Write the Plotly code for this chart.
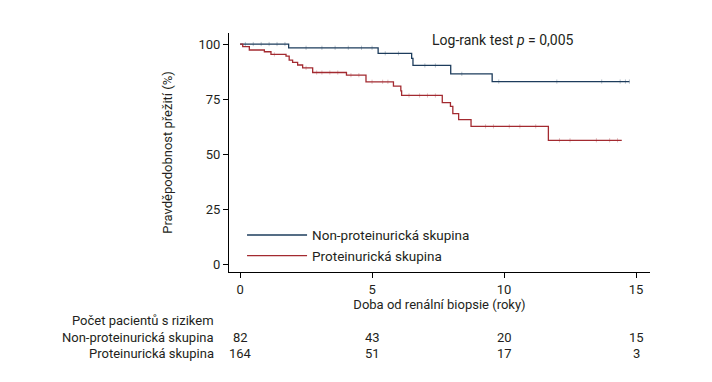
import numpy as np
import plotly.graph_objects as go

# ---- data ----
group_names = ["Non-proteinurická skupina", "Proteinurická skupina"]
non_t = [0, 1.84, 5.23, 6.50, 6.55, 7.98, 9.55, 14.75]
non_s = [100, 98.3, 95.8, 93.5, 90.3, 86.5, 83.0, 83.0]
pro_t = [0, 0.10, 0.35, 0.92, 1.17, 1.74, 1.86, 1.99, 2.18, 2.37, 2.75, 4.03, 4.77,
         5.81, 6.09, 6.12, 7.66, 7.97, 8.06, 8.28, 8.75, 11.68, 14.46]
pro_s = [100, 98.8, 97.3, 96.5, 95.3, 94.5, 92.7, 91.7, 90.5, 89.2, 87.1, 85.9, 82.9,
         80.9, 78.8, 76.7, 73.5, 71.8, 68.5, 65.8, 62.7, 56.4, 56.4]
non_cens = [0.2, 0.5, 0.8, 1.1, 1.4, 1.7, 2.5, 3.1, 3.6, 4.1, 4.6, 5.0, 5.5, 6.0,
            7.0, 7.4, 8.4, 9.8, 12.0, 13.7, 14.4, 14.6, 14.75]
pro_cens = [1.3, 2.5, 2.9, 3.1, 3.4, 3.7, 4.2, 4.5, 5.0, 5.4, 5.6, 6.4, 6.8, 7.1,
            7.4, 9.3, 9.6, 10.2, 10.6, 11.2, 12.1, 12.5, 13.5, 14.0, 14.3]
risk_times = [0, 5, 10, 15]
risk_non = [82, 43, 20, 15]
risk_pro = [164, 51, 17, 3]
x_ticks = [0, 5, 10, 15]
y_ticks = [0, 25, 50, 75, 100]

BLUE = "#1d3c5c"
RED = "#a32a30"
TXT = "#231f20"
FONT = "Roboto"


def step_at(ts, ss, x):
    i = np.searchsorted(np.array(ts), x, side="right") - 1
    return ss[max(i, 0)]


fig = go.Figure()
for name, t, s, c, col in [(group_names[0], non_t, non_s, non_cens, BLUE),
                           (group_names[1], pro_t, pro_s, pro_cens, RED)]:
    fig.add_trace(go.Scatter(x=t, y=s, mode="lines", line_shape="hv",
                             line=dict(color=col, width=1.3), name=name))
    fig.add_trace(go.Scatter(x=c, y=[step_at(t, s, v) for v in c], mode="markers",
                             marker=dict(symbol="line-ns", size=3,
                                         line=dict(color=col, width=1)),
                             opacity=0.3, showlegend=False, hoverinfo="skip"))

fig.add_annotation(x=0.651, y=0.971, xref="paper", yref="paper", xanchor="center",
                   yanchor="middle", text="Log-rank test <i>p</i> = 0,005",
                   showarrow=False, font=dict(size=14, color=TXT, family=FONT))

# risk table
row_y = [-0.2034, -0.2746, -0.3417]
fig.add_annotation(x=-0.031, y=row_y[0], xref="paper", yref="paper", xanchor="right",
                   yanchor="middle", text="Počet pacientů s rizikem", showarrow=False,
                   font=dict(size=13, color=TXT, family=FONT))
for lbl, vals, yy in [(group_names[0], risk_non, row_y[1]), (group_names[1], risk_pro, row_y[2])]:
    fig.add_annotation(x=-0.031, y=yy, xref="paper", yref="paper", xanchor="right",
                       yanchor="middle", text=lbl, showarrow=False,
                       font=dict(size=13, color=TXT, family=FONT))
    for tt, v in zip(risk_times, vals):
        fig.add_annotation(x=tt, y=yy, xref="x", yref="paper", xanchor="center",
                           yanchor="middle", text=str(v), showarrow=False,
                           font=dict(size=13, color=TXT, family=FONT))

fig.update_layout(
    width=704, height=374,
    margin=dict(l=221, r=62, t=25, b=110),
    paper_bgcolor="white", plot_bgcolor="white",
    font=dict(family=FONT, size=13, color=TXT),
    showlegend=True,
    legend=dict(x=0.031, y=0.11, xanchor="left", yanchor="middle",
                bgcolor="rgba(0,0,0,0)", font=dict(size=13.5, color=TXT, family=FONT),
                tracegroupgap=0, itemwidth=60),
    xaxis=dict(range=[-0.42, 15.53], tickvals=x_ticks, ticks="outside", ticklen=5,
               tickcolor="black", showline=True, linecolor="black", linewidth=1,
               showgrid=False, zeroline=False,
               title=dict(text="Doba od renální biopsie (roky)", standoff=2,
                          font=dict(size=13, color=TXT))),
    yaxis=dict(range=[-3.27, 105], tickvals=y_ticks, ticks="outside", ticklen=5,
               tickcolor="black", showline=True, linecolor="black", linewidth=1,
               showgrid=False, zeroline=False,
               title=dict(text="Pravděpodobnost přežití (%)", standoff=22,
                          font=dict(size=13, color=TXT))),
)

fig.write_html("out.html")
